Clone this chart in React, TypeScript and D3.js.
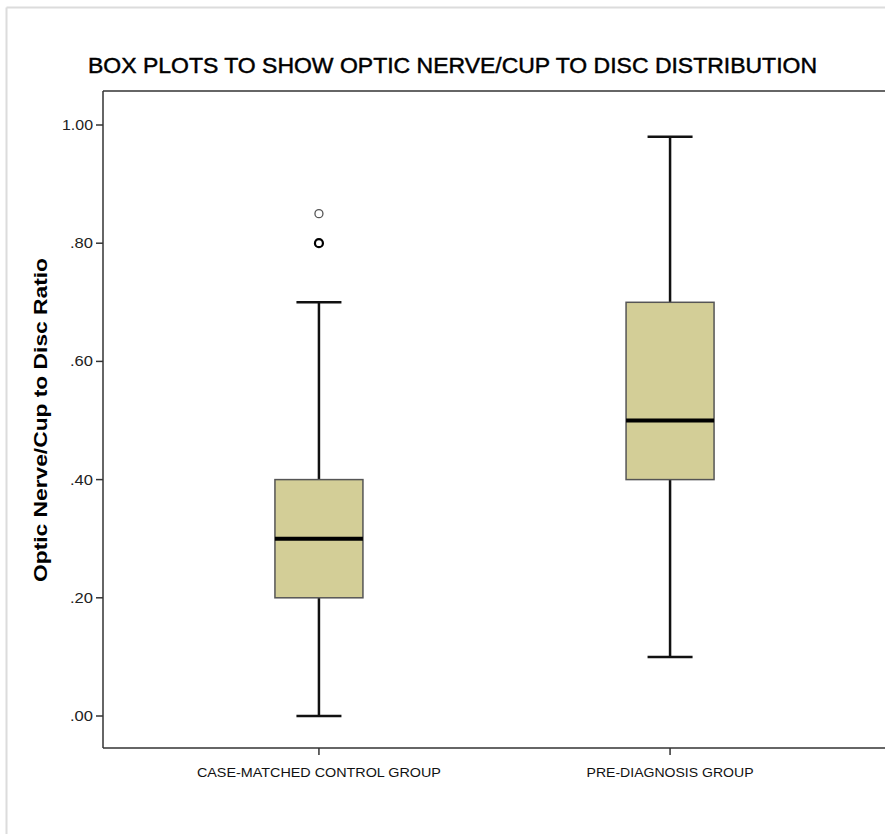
import React from "react";
import * as d3 from "d3";

const title = "BOX PLOTS TO SHOW OPTIC NERVE/CUP TO DISC DISTRIBUTION";
const yLabel = "Optic Nerve/Cup to Disc Ratio";
const categories = ["CASE-MATCHED CONTROL GROUP", "PRE-DIAGNOSIS GROUP"];
const whiskerLow = [0.0, 0.1];
const q1 = [0.2, 0.4];
const median = [0.3, 0.5];
const q3 = [0.4, 0.7];
const whiskerHigh = [0.7, 0.98];
const outliers: [number, number, boolean][] = [
  [0, 0.85, false],
  [0, 0.8, true],
];
const yTicks = [0, 0.2, 0.4, 0.6, 0.8, 1.0];

const W = 885;
const H = 834;
const left = 103;
const right = 886;
const top = 91;
const bottom = 748;

export default function App() {
  const y = d3.scaleLinear().domain([0, 1]).range([716, 125]);
  const x = d3.scalePoint<string>().domain(categories).range([left, right]).padding(0.615);
  const boxW = 88;
  const capW = 45;
  const fmt = (v: number) => d3.format(".2f")(v).replace(/^0/, "");
  const font = "'Liberation Sans', Arial, sans-serif";

  return (
    <svg width={W} height={H} style={{ position: "absolute", left: 0, top: 0, background: "#fff" }}>
      {/* outer frame */}
      <line x1={6.5} y1={7.5} x2={W} y2={7.5} stroke="#dcdcdc" strokeWidth={2} />
      <line x1={6.5} y1={7.5} x2={6.5} y2={H} stroke="#dcdcdc" strokeWidth={2} />

      <text x={88} y={72.5} fontFamily={font} fontSize={21.5} fill="#000" stroke="#000" strokeWidth={0.45} textLength={729} lengthAdjust="spacingAndGlyphs">
        {title}
      </text>

      {/* plot frame */}
      <line x1={left} y1={top} x2={right} y2={top} stroke="#333" strokeWidth={1.5} />
      <line x1={left} y1={top} x2={left} y2={bottom} stroke="#333" strokeWidth={1.5} />
      <line x1={left} y1={bottom} x2={right} y2={bottom} stroke="#333" strokeWidth={1.5} />

      {/* y ticks */}
      {yTicks.map((t) => (
        <g key={t}>
          <line x1={96} x2={left} y1={y(t)} y2={y(t)} stroke="#333" strokeWidth={1.5} />
          <text x={93} y={y(t)} dy="0.35em" textAnchor="end" fontFamily={font} fontSize={14} fill="#222" textLength={fmt(t).length > 3 ? 31 : 23} lengthAdjust="spacingAndGlyphs">
            {fmt(t)}
          </text>
        </g>
      ))}

      <text
        transform={`translate(47, 420) rotate(-90)`}
        textAnchor="middle"
        fontFamily={font}
        fontSize={19}
        fontWeight="bold"
        fill="#000"
        textLength={324}
        lengthAdjust="spacingAndGlyphs"
      >
        {yLabel}
      </text>

      {/* x ticks */}
      {categories.map((c, i) => (
        <g key={c}>
          <line x1={x(c)} x2={x(c)} y1={bottom} y2={bottom + 7} stroke="#333" strokeWidth={1.5} />
          <text x={x(c)} y={777} textAnchor="middle" fontFamily={font} fontSize={13.5} fill="#111" textLength={i === 0 ? 244 : 167} lengthAdjust="spacingAndGlyphs">
            {c}
          </text>
        </g>
      ))}

      {/* boxes */}
      {categories.map((c, i) => {
        const cx = x(c) as number;
        return (
          <g key={c}>
            <line x1={cx} x2={cx} y1={y(whiskerHigh[i])} y2={y(q3[i])} stroke="#111" strokeWidth={2.5} />
            <line x1={cx} x2={cx} y1={y(q1[i])} y2={y(whiskerLow[i])} stroke="#111" strokeWidth={2.5} />
            <line x1={cx - capW / 2} x2={cx + capW / 2} y1={y(whiskerHigh[i])} y2={y(whiskerHigh[i])} stroke="#111" strokeWidth={2.5} />
            <line x1={cx - capW / 2} x2={cx + capW / 2} y1={y(whiskerLow[i])} y2={y(whiskerLow[i])} stroke="#111" strokeWidth={2.5} />
            <rect x={cx - boxW / 2} y={y(q3[i])} width={boxW} height={y(q1[i]) - y(q3[i])} fill="#d3ce97" stroke="#555" strokeWidth={1.5} />
            <line x1={cx - boxW / 2} x2={cx + boxW / 2} y1={y(median[i])} y2={y(median[i])} stroke="#000" strokeWidth={4} />
          </g>
        );
      })}

      {/* outliers */}
      {outliers.map(([ci, v, bold], k) => (
        <circle key={k} cx={x(categories[ci]) as number} cy={y(v)} r={4} fill="none" stroke={bold ? "#000" : "#555"} strokeWidth={bold ? 2.2 : 1.3} />
      ))}
    </svg>
  );
}
